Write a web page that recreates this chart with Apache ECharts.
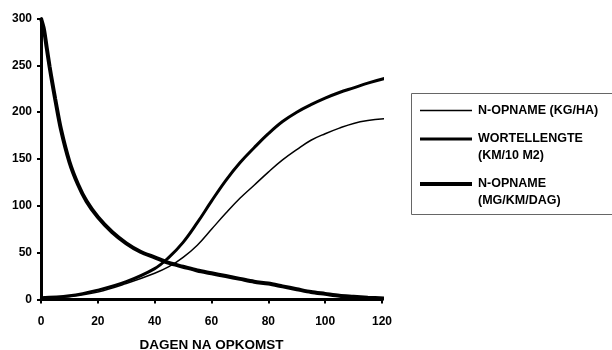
<!DOCTYPE html>
<html>
<head>
<meta charset="utf-8">
<script src="https://cdn.jsdelivr.net/npm/echarts@6/dist/echarts.min.js"></script>
<style>
  html, body { margin: 0; padding: 0; background: #fff; }
  #chart { width: 612px; height: 350px; }
</style>
</head>
<body>
<div id="chart"></div>
<script>
// Days after emergence and the three measured curves
const xTicks = [0, 20, 40, 60, 80, 100, 120];
const yTicks = [0, 50, 100, 150, 200, 250, 300];

// N-opname (kg/ha)
const uptakeDays = [0, 10, 20, 30, 40, 45, 50, 55, 60, 65, 70, 75, 80, 85, 90, 95, 100, 105, 110, 115, 121];
const uptakeKgHa = [1, 3, 8, 17, 28, 35, 45, 58, 75, 92, 108, 122, 136, 149, 160, 170, 177, 183, 188, 191, 193];

// Wortellengte (km/10 m2)
const rootDays = [0, 10, 20, 30, 40, 45, 50, 55, 60, 65, 70, 75, 80, 85, 90, 95, 100, 105, 110, 115, 121];
const rootKm = [2, 4, 10, 19, 33, 45, 61, 82, 105, 127, 146, 162, 177, 190, 200, 208, 215, 221, 226, 231, 236];

// N-opname (mg/km/dag)
const rateDays = [0, 1, 2, 3, 4, 5, 7, 10, 13, 16, 20, 25, 30, 35, 40, 45, 50, 55, 60, 65, 70, 75, 80, 85, 90, 95, 100, 105, 110, 115, 121];
const rateMg = [300, 289, 269, 249, 231, 214, 182, 147, 123, 105, 88, 72, 60, 51, 45, 39, 35, 31, 28, 25, 22, 19, 17, 14, 11, 8, 6, 4, 3, 2, 1];

const legendItems = [
  { lines: ['N-OPNAME (KG/HA)'], width: 1.5 },
  { lines: ['WORTELLENGTE', '(KM/10 M2)'], width: 3 },
  { lines: ['N-OPNAME', '(MG/KM/DAG)'], width: 4 }
];

const pairs = (xs, ys) => xs.map((x, i) => [x, ys[i]]);
const FONT = 'Liberation Sans, Arial, sans-serif';

const chart = echarts.init(document.getElementById('chart'), null, { renderer: 'canvas' });

// Legend drawn as a framed block to the right of the plot
const legendGraphic = [{
  type: 'rect',
  shape: { x: 411.5, y: 93.5, width: 230, height: 121 },
  style: { fill: 'none', stroke: '#666', lineWidth: 1 },
  silent: true
}];
const rowY = [110.5, 139, 184];
legendItems.forEach((item, i) => {
  legendGraphic.push({
    type: 'line',
    shape: { x1: 420, y1: rowY[i], x2: 472, y2: rowY[i] },
    style: { stroke: '#000', lineWidth: item.width },
    silent: true
  });
  item.lines.forEach((t, j) => {
    legendGraphic.push({
      type: 'text',
      x: 478, y: rowY[i] + j * 16.5,
      style: { text: t, fill: '#000', font: 'bold 12.5px ' + FONT, textVerticalAlign: 'middle', textAlign: 'left' },
      silent: true
    });
  });
});

const axisCommon = {
  axisLine: { show: true, lineStyle: { color: '#000', width: 3 } },
  axisTick: { show: true, inside: false, length: 4, lineStyle: { color: '#000', width: 2 } },
  splitLine: { show: false },
  axisLabel: { color: '#000', fontFamily: FONT, fontWeight: 'bold', fontSize: 12 }
};

chart.setOption({
  animation: false,
  backgroundColor: '#fff',
  grid: { left: 41, right: 230, top: 18.5, bottom: 50.5, containLabel: false, outerBoundsMode: 'none' },
  xAxis: Object.assign({}, axisCommon, {
    type: 'value', min: xTicks[0], max: xTicks[xTicks.length - 1], interval: 20,
    name: 'DAGEN NA OPKOMST', nameLocation: 'middle', nameGap: 39,
    nameTextStyle: { color: '#000', fontFamily: FONT, fontWeight: 'bold', fontSize: 13.5 },
    axisLabel: Object.assign({}, axisCommon.axisLabel, { margin: 16 })
  }),
  yAxis: Object.assign({}, axisCommon, {
    type: 'value', min: yTicks[0], max: yTicks[yTicks.length - 1], interval: 50,
    axisLabel: Object.assign({}, axisCommon.axisLabel, { margin: 9 })
  }),
  series: [
    { name: 'N-OPNAME (KG/HA)', type: 'line', data: pairs(uptakeDays, uptakeKgHa), smooth: 0.4, showSymbol: false,
      lineStyle: { color: '#000', width: 1.5 }, clip: false },
    { name: 'WORTELLENGTE (KM/10 M2)', type: 'line', data: pairs(rootDays, rootKm), smooth: 0.4, showSymbol: false,
      lineStyle: { color: '#000', width: 3 }, clip: false },
    { name: 'N-OPNAME (MG/KM/DAG)', type: 'line', data: pairs(rateDays, rateMg), smooth: 0.3, showSymbol: false,
      lineStyle: { color: '#000', width: 4 }, clip: false }
  ],
  graphic: legendGraphic
});
</script>
</body>
</html>
